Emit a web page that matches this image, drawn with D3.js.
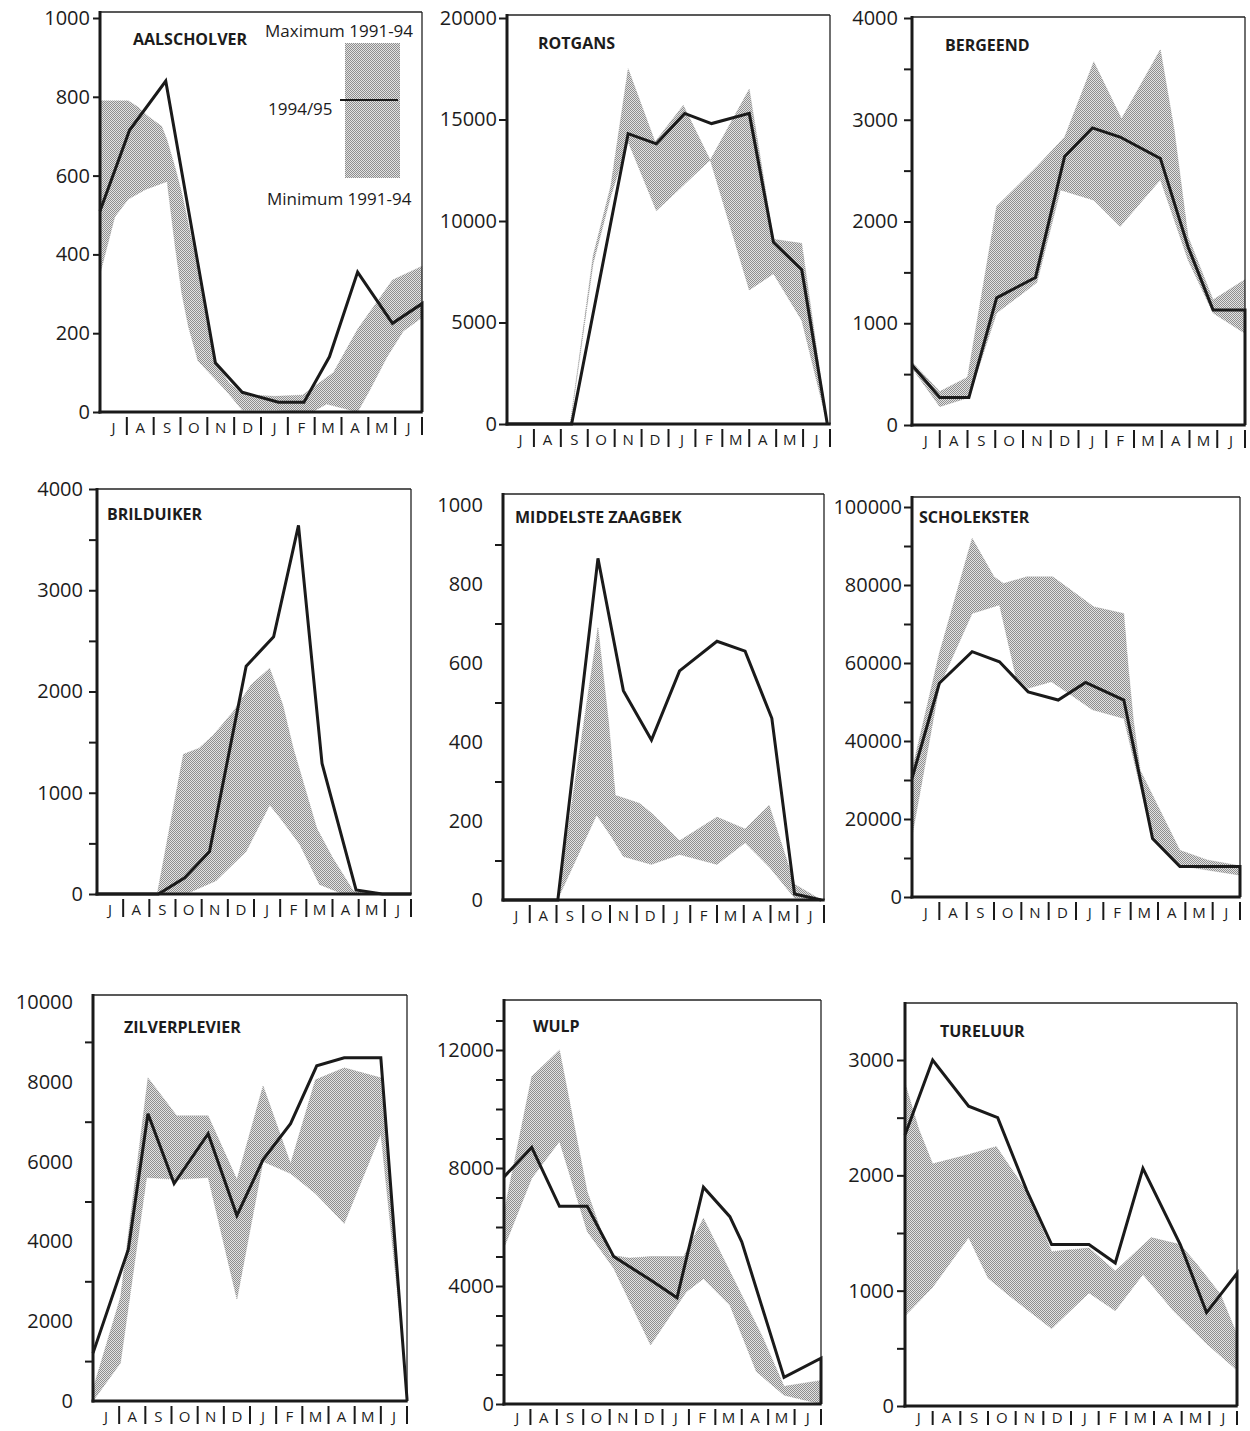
<!DOCTYPE html>
<html>
<head>
<meta charset="utf-8">
<script src="https://cdn.jsdelivr.net/npm/d3@7"></script>
<style>
  body { margin: 0; background: #fff; }
  svg text { font-family: "Open Sans", "DejaVu Sans", sans-serif; fill: #1c1c1c; }
</style>
</head>
<body>
<div id="chart"></div>
<script>
const months = ["J", "A", "S", "O", "N", "D", "J", "F", "M", "A", "M", "J"];
const legendLabels = ["Maximum 1991-94", "1994/95", "Minimum 1991-94"];

// [maand (0 = begin juli, 12 = eind juni), aantal]
const aalscholverLine = [[0,510],[1.1,715],[2.45,840],[4.3,125],[5.3,50],[6.65,25],[7.6,25],[8.55,140],[9.6,355],[10.9,225],[12,275]];
const aalscholverMax = [[0,790],[1.05,790],[1.4,775],[1.8,750],[2.3,725],[2.5,690],[2.8,620],[3.05,555],[3.5,410],[4.0,220],[4.3,125],[4.8,75],[5.3,45],[6.5,40],[7.55,43],[8.7,100],[9.6,210],[10.9,335],[12,370]];
const aalscholverMin = [[0,350],[0.55,495],[1.05,540],[1.7,565],[2.3,580],[2.5,585],[2.8,420],[3.05,300],[3.3,215],[3.65,130],[4.2,90],[4.75,50],[5.3,5],[6.5,5],[7.9,0],[8.45,20],[9.6,0],[10.05,55],[10.7,140],[11.3,205],[12,240]];

const rotgansLine = [[0,0],[2.4,0],[4.5,14300],[5.55,13800],[6.6,15300],[7.6,14800],[9.0,15300],[9.9,8950],[10.95,7600],[11.9,0]];
const rotgansMax = [[2.35,0],[3.2,8300],[3.85,11700],[4.5,17500],[5.5,13900],[6.55,15700],[7.55,13000],[9.0,16500],[9.9,9100],[10.95,8900],[11.9,0]];
const rotgansMin = [[2.35,0],[3.2,7900],[3.85,11200],[4.5,13900],[5.55,10500],[7.55,13000],[9.0,6600],[9.9,7400],[10.95,5100],[11.9,0]];

const bergeendLine = [[0,590],[1.0,270],[2.05,270],[3.05,1250],[4.45,1450],[5.5,2640],[6.5,2920],[7.5,2830],[8.95,2620],[9.95,1750],[10.85,1130],[12,1130]];
const bergeendMax = [[0,620],[1.0,330],[2.0,470],[3.05,2150],[4.5,2540],[5.5,2830],[6.55,3570],[7.55,3010],[8.95,3690],[9.45,2900],[9.95,1850],[10.85,1230],[12,1430]];
const bergeendMin = [[0,560],[1.0,180],[2.05,270],[3.05,1100],[4.5,1400],[5.35,2310],[6.55,2210],[7.5,1950],[8.95,2410],[9.95,1620],[10.85,1100],[12,900]];

const brilduikerLine = [[0,0],[2.35,0],[3.35,160],[4.3,420],[5.7,2250],[6.75,2540],[7.7,3640],[8.6,1290],[9.9,40],[10.9,0],[12,0]];
const brilduikerMax = [[2.3,0],[3.3,1380],[3.9,1440],[4.45,1570],[5.2,1800],[5.9,2070],[6.6,2230],[7.1,1870],[7.5,1440],[8.4,650],[9.0,360],[9.8,30],[10.5,0]];
const brilduikerMin = [[2.3,0],[3.4,0],[4.55,130],[5.7,420],[6.6,880],[7.0,750],[7.75,490],[8.5,95],[9.3,10],[10.5,0]];

const zaagbekLine = [[0,0],[2.05,0],[3.55,865],[4.5,530],[5.55,405],[6.6,580],[8.0,655],[9.05,630],[10.05,460],[10.9,15],[11.9,0]];
const zaagbekMax = [[2.1,30],[3.55,690],[3.95,450],[4.2,265],[5.1,245],[5.55,220],[6.6,150],[8.0,210],[9.05,180],[9.95,240],[10.9,40],[11.9,0]];
const zaagbekMin = [[2.1,10],[3.5,215],[4.05,160],[4.5,110],[5.55,90],[6.6,115],[8.0,90],[9.05,145],[10.0,80],[10.9,5],[11.9,0]];

const scholeksterLine = [[0,30400],[1.0,54800],[2.2,62900],[3.2,60300],[4.25,52600],[5.35,50500],[6.35,55000],[7.75,50500],[8.8,15000],[9.8,7800],[12,7800]];
const scholeksterMax = [[0,32500],[1.0,62500],[2.2,92000],[3.0,82100],[3.35,80400],[4.2,82100],[5.15,82100],[6.15,77000],[6.65,74400],[7.75,72700],[7.9,60000],[8.1,45400],[8.35,32500],[8.95,24000],[9.8,12000],[10.8,9500],[12,8000]];
const scholeksterMin = [[0,15500],[1.0,54000],[2.2,72700],[3.2,74900],[3.8,56500],[4.25,53500],[5.1,55200],[5.9,51400],[6.6,48000],[7.75,45800],[8.8,15000],[9.8,8000],[12,5600]];

const zilverplevierLine = [[0,1200],[1.35,3800],[2.1,7200],[3.1,5450],[4.4,6700],[5.5,4650],[6.5,6050],[7.55,6950],[8.55,8400],[9.6,8600],[11.0,8600],[12,50]];
const zilverplevierMax = [[0,300],[1.05,2600],[2.1,8100],[3.2,7150],[4.4,7150],[5.5,5550],[6.5,7900],[7.55,5950],[8.5,8050],[9.6,8350],[11.0,8100],[11.85,1350],[12,0]];
const zilverplevierMin = [[0,0],[1.05,950],[2.05,5600],[3.2,5550],[4.4,5600],[5.5,2550],[6.5,6000],[7.55,5700],[8.5,5200],[9.6,4450],[11.0,6700],[11.85,1350],[12,0]];

const wulpLine = [[0,7700],[1.05,8700],[2.1,6700],[3.15,6700],[4.15,5000],[5.55,4200],[6.55,3600],[7.55,7350],[8.55,6350],[9.0,5500],[10.6,900],[12,1550]];
const wulpMax = [[0,6500],[1.05,11100],[2.1,12000],[3.15,7200],[4.0,5050],[4.75,4950],[5.55,5000],[6.8,5000],[7.55,6300],[8.55,4500],[9.8,2250],[10.6,600],[12,800]];
const wulpMin = [[0,5300],[1.05,7650],[2.1,8900],[3.15,5850],[4.15,4600],[5.55,2000],[6.9,3800],[7.55,4250],[8.55,3350],[9.55,1100],[10.6,300],[12,0]];

const tureluurLine = [[0,2350],[1.0,3000],[2.3,2600],[3.35,2500],[4.4,1870],[5.3,1400],[6.65,1400],[7.6,1240],[8.6,2060],[9.95,1400],[10.9,810],[12,1150]];
const tureluurMax = [[0,2800],[0.5,2400],[1.0,2100],[2.3,2180],[3.3,2250],[4.4,1860],[5.3,1340],[6.65,1370],[7.6,1170],[8.9,1460],[9.95,1400],[10.55,1230],[11.4,970],[12,620]];
const tureluurMin = [[0,780],[1.0,1030],[2.3,1460],[3.0,1110],[3.8,950],[5.3,670],[6.65,980],[7.6,825],[8.6,1140],[9.7,825],[10.9,540],[12,310]];

// y-as labels
const ticks1000 = [0, 200, 400, 600, 800, 1000];
const ticks20000 = [0, 5000, 10000, 15000, 20000];
const ticks4000 = [0, 1000, 2000, 3000, 4000];
const minor4000 = [500, 1500, 2500, 3500];
const minor1000 = [100, 300, 500, 700, 900];
const ticks100000 = [0, 20000, 40000, 60000, 80000, 100000];
const minor100000 = [10000, 30000, 50000, 70000, 90000];
const ticks10000 = [0, 2000, 4000, 6000, 8000, 10000];
const minor10000 = [1000, 3000, 5000, 7000, 9000];
const ticks12000 = [0, 4000, 8000, 12000];
const minor12000 = [1000, 2000, 3000, 5000, 6000, 7000, 9000, 10000, 11000, 13000];
const ticks3000 = [0, 1000, 2000, 3000];
const minor3000 = [500, 1500, 2500];

const panels = [
  { title: "AALSCHOLVER", line: aalscholverLine, max: aalscholverMax, min: aalscholverMin, ticks: ticks1000, minor: [],
    x0: 100, x1: 422, top: 12, yZero: 412, yTop: 18, size: 7, pad: 3, tx: 133, ty: 45, mo: 21 },
  { title: "ROTGANS", line: rotgansLine, max: rotgansMax, min: rotgansMin, ticks: ticks20000, minor: [],
    x0: 507, x1: 830, top: 15, yZero: 424, yTop: 18, size: 8, pad: 2, tx: 538, ty: 49, mo: 21 },
  { title: "BERGEEND", line: bergeendLine, max: bergeendMax, min: bergeendMin, ticks: ticks4000, minor: minor4000,
    x0: 912, x1: 1245, top: 17, yZero: 425, yTop: 18, size: 8, pad: 6, tx: 945, ty: 51, mo: 21 },
  { title: "BRILDUIKER", line: brilduikerLine, max: brilduikerMax, min: brilduikerMin, ticks: ticks4000, minor: minor4000,
    x0: 97, x1: 411, top: 489, yZero: 894, yTop: 489, size: 8, pad: 6, tx: 107, ty: 520, mo: 21 },
  { title: "MIDDELSTE ZAAGBEK", line: zaagbekLine, max: zaagbekMax, min: zaagbekMin, ticks: ticks1000, minor: minor1000,
    x0: 503, x1: 824, top: 494, yZero: 900, yTop: 505, size: 0, pad: 20, tx: 515, ty: 523, mo: 21 },
  { title: "SCHOLEKSTER", line: scholeksterLine, max: scholeksterMax, min: scholeksterMin, ticks: ticks100000, minor: minor100000,
    x0: 912, x1: 1240, top: 497, yZero: 897, yTop: 507, size: 8, pad: 2, tx: 919, ty: 523, mo: 21 },
  { title: "ZILVERPLEVIER", line: zilverplevierLine, max: zilverplevierMax, min: zilverplevierMin, ticks: ticks10000, minor: minor10000,
    x0: 93, x1: 407, top: 995, yZero: 1401, yTop: 1002, size: 0, pad: 20, tx: 124, ty: 1033, mo: 21 },
  { title: "WULP", line: wulpLine, max: wulpMax, min: wulpMin, ticks: ticks12000, minor: minor12000,
    x0: 504, x1: 821, top: 1000, yZero: 1404, yTop: 1050, size: 8, pad: 2, tx: 533, ty: 1032, mo: 19 },
  { title: "TURELUUR", line: tureluurLine, max: tureluurMax, min: tureluurMin, ticks: ticks3000, minor: minor3000,
    x0: 905, x1: 1237, top: 1003, yZero: 1406, yTop: 1060, size: 8, pad: 3, tx: 940, ty: 1037, mo: 17 }
];

const svg = d3.select("#chart")
  .append("svg")
  .attr("width", 1250)
  .attr("height", 1431);

svg.append("rect").attr("width", 1250).attr("height", 1431).attr("fill", "#fff");

// stippel-raster voor de band min-max
const pattern = svg.append("defs").append("pattern")
  .attr("id", "stipple")
  .attr("patternUnits", "userSpaceOnUse")
  .attr("width", 2)
  .attr("height", 2);
pattern.append("rect").attr("width", 2).attr("height", 2).attr("fill", "#e2e2e2");
pattern.append("rect").attr("width", 1).attr("height", 1).attr("fill", "#8e8e8e");
pattern.append("rect").attr("x", 1).attr("y", 1).attr("width", 1).attr("height", 1).attr("fill", "#8e8e8e");

panels.forEach(drawPanel);
drawLegend();

function drawPanel(p) {
  const x = d3.scaleLinear().domain([0, 12]).range([p.x0, p.x1]);
  const y = d3.scaleLinear().domain([0, d3.max(p.ticks)]).range([p.yZero, p.yTop]);
  const g = svg.append("g");

  // band tussen minimum en maximum
  const band = p.max.map(d => [x(d[0]), y(d[1])])
    .concat(p.min.slice().reverse().map(d => [x(d[0]), y(d[1])]));
  g.append("path")
    .attr("d", d3.line()(band) + "Z")
    .attr("fill", "url(#stipple)")
    .attr("stroke", "#a0a0a0")
    .attr("stroke-width", 0.6)
    .attr("stroke-dasharray", "1,1");

  // kader
  g.append("line")
    .attr("x1", p.x0).attr("x2", p.x1).attr("y1", p.top).attr("y2", p.top)
    .attr("stroke", "#222").attr("stroke-width", 1.3);
  g.append("line")
    .attr("x1", p.x1).attr("x2", p.x1).attr("y1", p.top).attr("y2", p.yZero)
    .attr("stroke", "#222").attr("stroke-width", 1.3);

  // 1994/95, afgesloten naar de as
  const last = p.line[p.line.length - 1];
  const pts = p.line.map(d => [x(d[0]), y(d[1])]);
  pts.push([x(last[0]), y(0)]);
  g.append("path")
    .attr("d", d3.line()(pts))
    .attr("fill", "none")
    .attr("stroke", "#1a1a1a")
    .attr("stroke-width", 3)
    .attr("stroke-linejoin", "miter");

  g.append("line")
    .attr("x1", p.x0).attr("x2", p.x0).attr("y1", p.top - 1).attr("y2", p.yZero + 1.5)
    .attr("stroke", "#1a1a1a").attr("stroke-width", 3);
  g.append("line")
    .attr("x1", p.x0 - 1.5).attr("x2", p.x1 + 0.7).attr("y1", p.yZero).attr("y2", p.yZero)
    .attr("stroke", "#1a1a1a").attr("stroke-width", 3);

  // y-as
  const yAxis = g.append("g")
    .attr("transform", `translate(${p.x0},0)`)
    .call(d3.axisLeft(y).tickValues(p.ticks).tickSize(p.size).tickPadding(p.pad).tickFormat(d3.format("d")));
  yAxis.select(".domain").remove();
  yAxis.selectAll("line").attr("stroke", "#1a1a1a").attr("stroke-width", 2);
  yAxis.selectAll("text").attr("font-size", 20).attr("fill", "#1c1c1c");

  if (p.minor.length) {
    const minorAxis = g.append("g")
      .attr("transform", `translate(${p.x0},0)`)
      .call(d3.axisLeft(y).tickValues(p.minor).tickSize(8).tickFormat(""));
    minorAxis.select(".domain").remove();
    minorAxis.selectAll("line").attr("stroke", "#1a1a1a").attr("stroke-width", 2);
  }

  // maanden
  g.selectAll(".sep")
    .data(d3.range(1, 13))
    .enter().append("line")
    .attr("x1", d => x(d)).attr("x2", d => x(d))
    .attr("y1", p.yZero + 5).attr("y2", p.yZero + p.mo + 2)
    .attr("stroke", "#1a1a1a").attr("stroke-width", 2);

  g.selectAll(".month")
    .data(months)
    .enter().append("text")
    .attr("x", (d, i) => x(i + 0.5))
    .attr("y", p.yZero + p.mo)
    .attr("text-anchor", "middle")
    .attr("font-size", 15)
    .text(d => d);

  g.append("text")
    .attr("x", p.tx)
    .attr("y", p.ty)
    .attr("font-size", 16)
    .attr("font-weight", "bold")
    .text(p.title);
}

function drawLegend() {
  const lg = svg.append("g");
  lg.append("rect")
    .attr("x", 345).attr("y", 43).attr("width", 55).attr("height", 135)
    .attr("fill", "url(#stipple)");
  lg.append("line")
    .attr("x1", 340).attr("x2", 398).attr("y1", 100).attr("y2", 100)
    .attr("stroke", "#1a1a1a").attr("stroke-width", 2);
  lg.append("text").attr("x", 265).attr("y", 37).attr("font-size", 17).text(legendLabels[0]);
  lg.append("text").attr("x", 268).attr("y", 115).attr("font-size", 17).text(legendLabels[1]);
  lg.append("text").attr("x", 267).attr("y", 205).attr("font-size", 17).text(legendLabels[2]);
}
</script>
</body>
</html>
